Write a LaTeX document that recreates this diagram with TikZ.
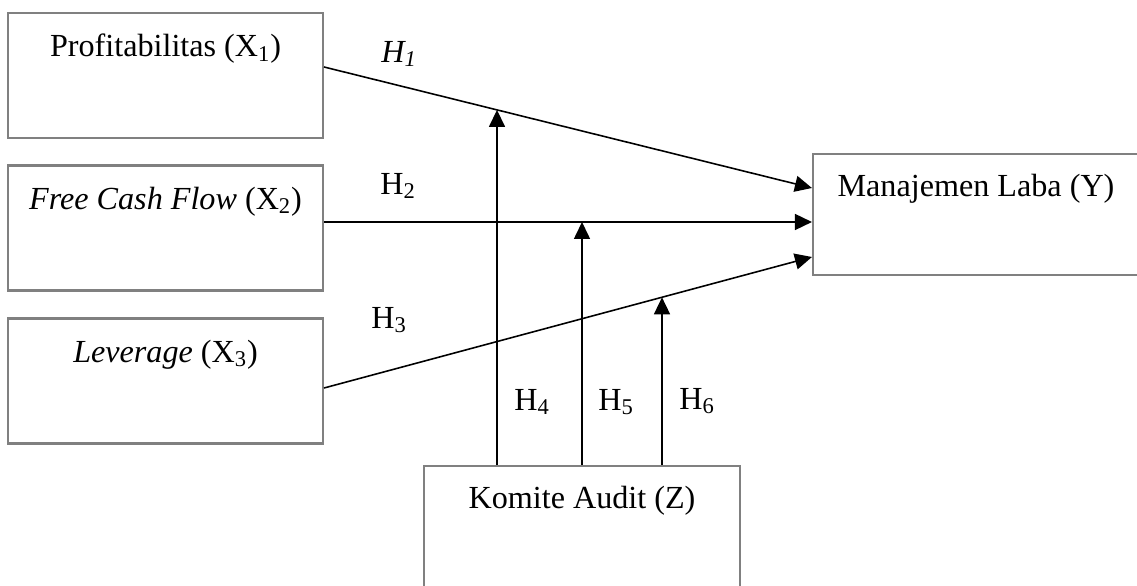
\documentclass[tikz,border=0pt]{standalone}
\usepackage{fontspec}
\setmainfont{Liberation Serif}
\usetikzlibrary{arrows.meta}
\tikzstyle{varbox} = [rectangle, minimum width=6.3cm, minimum height=2.5cm,
	draw=black!50, line width=1.2pt]
\tikzstyle{boxtext} = [inner sep=0pt]
\tikzstyle{arrow} = [-{Triangle[length=0.34cm, width=0.32cm]}, line width=0.9pt]

\begin{document}
\begin{tikzpicture}[font=\fontsize{18.3}{22}\selectfont]
	% set up frame
	\useasboundingbox (0,0) rectangle (22.74,11.72);
	\clip (0,0) rectangle (22.74,11.72);

	% set up boxes
	\node (x1) [varbox] at (3.31,10.21) {};
	\node (x2) [varbox] at (3.31,7.16) {};
	\node (x3) [varbox] at (3.31,4.10) {};
	\node (y) [varbox, minimum width=6.52cm, minimum height=2.42cm] at (19.52,7.43) {};
	\node (z) [varbox, minimum width=6.32cm] at (11.64,1.15) {};

	\node (x1-text) [boxtext] at ([yshift=-0.74cm]x1.north) {Profitabilitas (X\textsubscript{1})};
	\node (x2-text) [boxtext] at ([yshift=-0.74cm]x2.north) {\textit{Free Cash Flow} (X\textsubscript{2})};
	\node (x3-text) [boxtext] at ([yshift=-0.74cm]x3.north) {\textit{Leverage} (X\textsubscript{3})};
	\node (y-text) [boxtext] at ([yshift=-0.72cm]y.north) {Manajemen Laba (Y)};
	\node (z-text) [boxtext] at ([yshift=-0.72cm]z.north) {Komite Audit (Z)};

	% set up connector ends
	\coordinate (x1-out) at ([yshift=0.17cm]x1.east);
	\coordinate (x2-out) at ([yshift=0.12cm]x2.east);
	\coordinate (x3-out) at ([yshift=-0.14cm]x3.east);
	\coordinate (y-in1) at ([yshift=0.53cm]y.west);
	\coordinate (y-in2) at ([yshift=-0.15cm]y.west);
	\coordinate (y-in3) at ([yshift=-0.85cm]y.west);
	\coordinate (z-out1) at ([xshift=-1.7cm]z.north);
	\coordinate (z-out2) at (z.north);
	\coordinate (z-out3) at ([xshift=1.6cm]z.north);

	\path (x1-out) -- (y-in1) coordinate[pos=0.355] (h1-mid);
	\path (x2-out) -- (y-in2) coordinate[pos=0.529] (h2-mid);
	\path (x3-out) -- (y-in3) coordinate[pos=0.692] (h3-mid);

	% direct effects
	\draw[arrow] (x1-out) -- (y-in1);
	\draw[arrow] (x2-out) -- (y-in2);
	\draw[arrow] (x3-out) -- (y-in3);

	% moderation
	\draw[arrow] (z-out1) -- (z-out1 |- h1-mid);
	\draw[arrow] (z-out2) -- (z-out2 |- h2-mid);
	\draw[arrow] (z-out3) -- (z-out3 |- h3-mid);

	% labels
	\node (h1) at (7.98,10.64) {\textit{H\textsubscript{1}}};
	\node (h2) at (7.96,8.0) {H\textsubscript{2}};
	\node (h3) at (7.78,5.32) {H\textsubscript{3}};
	\node (h4) at (10.64,3.68) {H\textsubscript{4}};
	\node (h5) at (12.32,3.68) {H\textsubscript{5}};
	\node (h6) at (13.94,3.70) {H\textsubscript{6}};
\end{tikzpicture}
\end{document}
